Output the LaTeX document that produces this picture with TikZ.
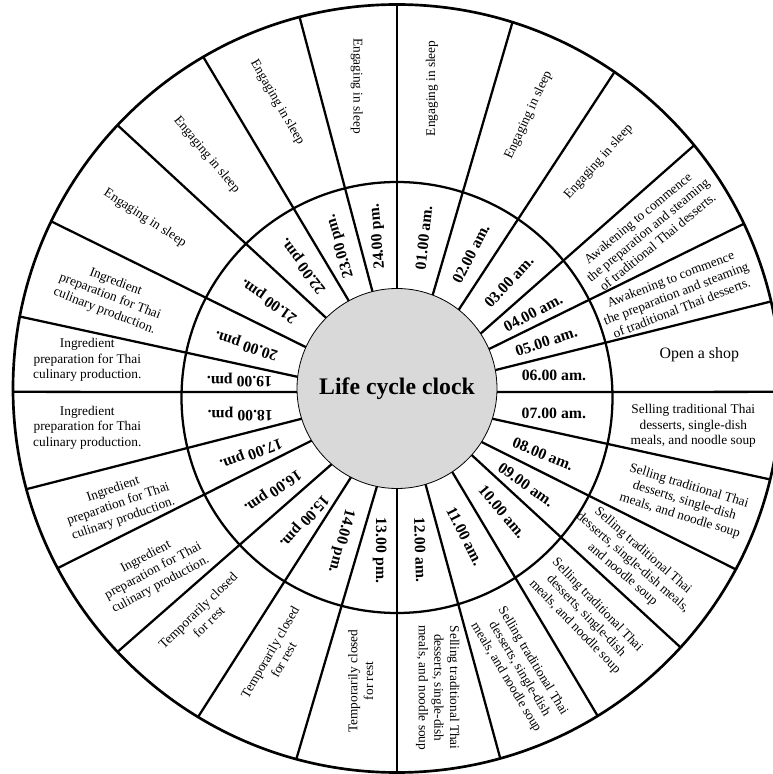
\documentclass[tikz,border=0pt]{standalone}
\usepackage{fontspec}
\setmainfont{Liberation Serif}
\definecolor{hubfill}{RGB}{217,217,217}
\tikzset{
    spoke/.style={draw=black, line width=1.7pt},
    ring/.style={draw=black, line width=1.7pt},
    rim/.style={draw=black, line width=2pt},
    hub/.style={
        circle, draw=black, line width=0.6pt, fill=hubfill,
        minimum size=150pt, inner sep=0pt, font=\fontsize{17.8}{20}\selectfont\bfseries
    },
    hour/.style={font=\fontsize{11.8}{14}\selectfont\bfseries, inner sep=0pt},
    activity/.style={font=\fontsize{10}{11.7}\selectfont, align=center, inner sep=0pt}
}

\begin{document}
\begin{tikzpicture}[x=0.75pt, y=0.75pt]
\useasboundingbox (-397,-385.5) rectangle (375,388.5);

% Spokes (outer angle / inner angle)
\foreach \ao/\ai in {90/90, 72.5/69.1, 55.5/51.9, 39.3/33.3, 25.4/23.2, 13.1/10.6,
    -0.5/-2.0, -13.7/-17.6, -28.1/-32.3, -42.4/-41.7, -58.5/-56.5, -74.4/-73.4,
    -90/-90, 254.8/258.4, 238.8/242.6, 223.3/229.2, 207.9/211.4, 195.2/197.6,
    180.5/182.0, 169.2/173.3, 154.2/155.6, 136.7/135.1, 120.3/118.8, 104.7/104.2}
    \draw[spoke] (\ai:100) -- (\ao:384);

% Rings
\draw[ring] (0,-9) circle[radius=215.5];
\draw[rim] (0,0) circle[radius=384];

% Hub
\node[hub] (hub) at (0,0) {Life cycle clock};

% Hour labels
\foreach \ang/\rot/\hr [count=\i] in {79.9/84/01.00 am., 61.2/63/02.00 am., 43.6/47/03.00 am.,
    29.0/28/04.00 am., 17.4/18/05.00 am., 4.9/0/06.00 am., -9.0/0/07.00 am.,
    -24.2/-22/08.00 am., -36.7/-35/09.00 am., -49.4/-50/10.00 am., -65.3/-63/11.00 am.,
    -81.8/-88/12.00 am., 263.9/270/13.00 pm., 249.8/255/14.00 pm., 234.9/228/15.00 pm.,
    219.4/214/16.00 pm., 203.9/200/17.00 pm., 189.2/180/18.00 pm., 176.9/180/19.00 pm.,
    163.9/162/20.00 pm., 145.4/145/21.00 pm., 127.3/127/22.00 pm., 111.7/107/23.00 pm.,
    97.2/95/24.00 pm.}
    \node[hour, rotate=\rot] (hour\i) at ({\ang}:{158-5*sin(\ang)}) {\hr};

% Activity labels
\foreach \px/\py/\rot/\txt [count=\i] in {
    35/300.2/90/{Engaging in sleep},
    131.7/273.5/65/{Engaging in sleep},
    201.7/226.8/48/{Engaging in sleep},
    250.7/158.5/39.5/{Awakening to commence\\the preparation and steaming\\of traditional Thai desserts.},
    279/95.2/21/{Awakening to commence\\the preparation and steaming\\of traditional Thai desserts.},
    302.3/33.5/0/{\fontsize{11.9}{14}\selectfont Open a shop},
    296.3/-37.5/0/{Selling traditional Thai\\desserts, single-dish\\meals, and noodle soup},
    287.3/-112.5/-17/{Selling traditional Thai\\desserts, single-dish\\meals, and noodle soup},
    235.7/-174.2/-41/{Selling traditional Thai\\desserts, single-dish meals,\\and noodle soup},
    189/-227.5/-46/{Selling traditional Thai\\desserts, single-dish\\meals, and noodle soup},
    122.3/-280.8/-59/{Selling traditional Thai\\desserts, single-dish\\meals, and noodle soup},
    40.7/-299.2/-90/{Selling traditional Thai\\desserts, single-dish\\meals, and noodle soup},
    -36.3/-292.5/90/{Temporarily closed\\for rest},
    -120.3/-267.5/60/{Temporarily closed\\for rest},
    -193.7/-227.5/44/{Temporarily closed\\for rest},
    -243.7/-182.5/28/{Ingredient\\preparation for Thai\\culinary production.},
    -278.7/-115.8/19/{Ingredient\\preparation for Thai\\culinary production.},
    -309.7/-39.2/0/{Ingredient\\preparation for Thai\\culinary production.},
    -309.7/28.5/0/{Ingredient\\preparation for Thai\\culinary production.},
    -287/91.8/-21/{Ingredient\\preparation for Thai\\culinary production.},
    -252/170.2/-33/{Engaging in sleep},
    -190.3/233.5/-50/{Engaging in sleep},
    -119.7/285.8/-60/{Engaging in sleep},
    -40.3/302.5/-90/{Engaging in sleep}}
    \node[activity, rotate=\rot] (act\i) at (\px,\py) {\txt};

\end{tikzpicture}
\end{document}
